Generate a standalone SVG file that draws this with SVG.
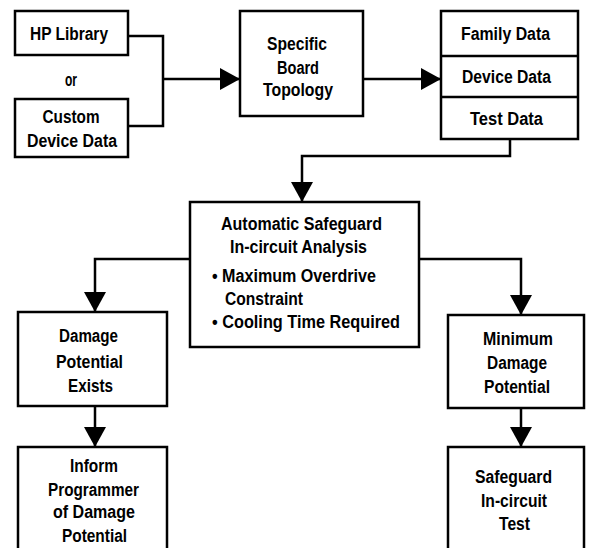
<svg xmlns="http://www.w3.org/2000/svg" width="590" height="548" viewBox="0 0 590 548">
<style>
.box{fill:#fff;stroke:#000;stroke-width:2.5}
.t{font-family:"Liberation Sans",Arial,sans-serif;font-weight:bold;font-size:17.5px;fill:#000;text-anchor:middle}
.l{text-anchor:start}
.c{fill:none;stroke:#000;stroke-width:2.5}
</style>
<defs>
<marker id="ah" markerUnits="userSpaceOnUse" markerWidth="20" markerHeight="22" refX="20" refY="11" orient="auto" overflow="visible">
<path d="M0,0 L20,11 L0,22 z" fill="#000"/>
</marker>
</defs>
<rect width="590" height="548" fill="#fff"/>
<g id="connectors">
<path class="c" d="M128,36 H163 V126 H128"/>
<path class="c" d="M163,79 H240" marker-end="url(#ah)"/>
<path class="c" d="M363,79 H441" marker-end="url(#ah)"/>
<path class="c" d="M510,139 V156 H302 V202" marker-end="url(#ah)"/>
<path class="c" d="M190,259 H95 V312" marker-end="url(#ah)"/>
<path class="c" d="M419,259 H521 V315" marker-end="url(#ah)"/>
<path class="c" d="M95,406 V447" marker-end="url(#ah)"/>
<path class="c" d="M521,408 V447" marker-end="url(#ah)"/>
</g>
<g id="hp-library">
<rect class="box" x="15" y="11" width="113" height="44"/>
<text class="t" x="69" y="40" textLength="78" lengthAdjust="spacingAndGlyphs">HP Library</text>
</g>
<g id="or-label">
<text class="t" x="71" y="86" textLength="12" lengthAdjust="spacingAndGlyphs">or</text>
</g>
<g id="custom-device-data">
<rect class="box" x="15" y="99" width="113" height="58"/>
<text class="t" x="71" y="123" textLength="57" lengthAdjust="spacingAndGlyphs">Custom</text>
<text class="t" x="72" y="147" textLength="90" lengthAdjust="spacingAndGlyphs">Device Data</text>
</g>
<g id="board-topology">
<rect class="box" x="240" y="11" width="123" height="105"/>
<text class="t" x="297" y="50" textLength="60" lengthAdjust="spacingAndGlyphs">Specific</text>
<text class="t" x="298" y="74" textLength="42" lengthAdjust="spacingAndGlyphs">Board</text>
<text class="t" x="298" y="96" textLength="70" lengthAdjust="spacingAndGlyphs">Topology</text>
</g>
<g id="data-stack">
<rect class="box" x="441" y="11" width="137" height="128"/>
<line class="c" x1="441" y1="56" x2="578" y2="56"/>
<line class="c" x1="441" y1="97" x2="578" y2="97"/>
<text class="t" x="505.5" y="40" textLength="89" lengthAdjust="spacingAndGlyphs">Family Data</text>
<text class="t" x="506.5" y="83" textLength="89" lengthAdjust="spacingAndGlyphs">Device Data</text>
<text class="t" x="506.5" y="125" textLength="73" lengthAdjust="spacingAndGlyphs">Test Data</text>
</g>
<g id="safeguard-analysis">
<rect class="box" x="190" y="202" width="229" height="145"/>
<text class="t" x="301.5" y="230" textLength="161" lengthAdjust="spacingAndGlyphs">Automatic Safeguard</text>
<text class="t" x="298.5" y="253" textLength="137" lengthAdjust="spacingAndGlyphs">In-circuit Analysis</text>
<text class="t l" x="212" y="282" textLength="164" lengthAdjust="spacingAndGlyphs">• Maximum Overdrive</text>
<text class="t l" x="225" y="305" textLength="78" lengthAdjust="spacingAndGlyphs">Constraint</text>
<text class="t l" x="212" y="328" textLength="188" lengthAdjust="spacingAndGlyphs">• Cooling Time Required</text>
</g>
<g id="damage-exists">
<rect class="box" x="18" y="312" width="149" height="94"/>
<text class="t" x="88.5" y="342" textLength="59" lengthAdjust="spacingAndGlyphs">Damage</text>
<text class="t" x="89.5" y="368" textLength="67" lengthAdjust="spacingAndGlyphs">Potential</text>
<text class="t" x="90.5" y="392" textLength="45" lengthAdjust="spacingAndGlyphs">Exists</text>
</g>
<g id="inform-programmer">
<rect class="box" x="18" y="447" width="149" height="115"/>
<text class="t" x="94" y="472" textLength="48" lengthAdjust="spacingAndGlyphs">Inform</text>
<text class="t" x="93.5" y="496" textLength="91" lengthAdjust="spacingAndGlyphs">Programmer</text>
<text class="t" x="94" y="518" textLength="82" lengthAdjust="spacingAndGlyphs">of Damage</text>
<text class="t" x="94.5" y="542" textLength="65" lengthAdjust="spacingAndGlyphs">Potential</text>
</g>
<g id="minimum-damage">
<rect class="box" x="448" y="315" width="136" height="93"/>
<text class="t" x="518" y="345" textLength="70" lengthAdjust="spacingAndGlyphs">Minimum</text>
<text class="t" x="517" y="369" textLength="60" lengthAdjust="spacingAndGlyphs">Damage</text>
<text class="t" x="517" y="393" textLength="66" lengthAdjust="spacingAndGlyphs">Potential</text>
</g>
<g id="safeguard-test">
<rect class="box" x="448" y="447" width="136" height="115"/>
<text class="t" x="513.5" y="483" textLength="77" lengthAdjust="spacingAndGlyphs">Safeguard</text>
<text class="t" x="514" y="507" textLength="66" lengthAdjust="spacingAndGlyphs">In-circuit</text>
<text class="t" x="514.5" y="530" textLength="31" lengthAdjust="spacingAndGlyphs">Test</text>
</g>
</svg>
